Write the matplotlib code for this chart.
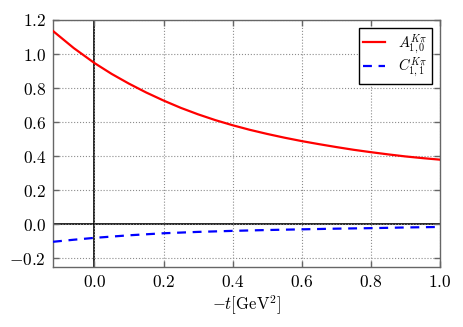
import matplotlib
matplotlib.use('Agg')
import matplotlib.pyplot as plt
from matplotlib.ticker import FuncFormatter

plt.rcParams['mathtext.fontset'] = 'cm'
plt.rcParams['font.family'] = 'serif'
plt.rcParams['font.serif'] = ['DejaVu Serif']

# values
t_red = [-0.12, -0.06, 0.0, 0.05, 0.1, 0.15, 0.2, 0.25, 0.3, 0.35, 0.4, 0.45,
         0.5, 0.55, 0.6, 0.65, 0.7, 0.75, 0.8, 0.85, 0.9, 0.95, 1.0]
A10 = [1.135, 1.035, 0.947, 0.883, 0.826, 0.774, 0.727, 0.684, 0.646, 0.612, 0.582, 0.555,
       0.531, 0.509, 0.489, 0.471, 0.454, 0.438, 0.424, 0.411, 0.399, 0.389, 0.38]
t_blue = [-0.12, -0.06, 0.0, 0.1, 0.2, 0.3, 0.4, 0.5, 0.6, 0.7, 0.8, 0.9, 1.0]
C11 = [-0.102, -0.09, -0.079, -0.064, -0.052, -0.044, -0.038, -0.033, -0.029,
       -0.025, -0.022, -0.018, -0.015]

fig = plt.figure(figsize=(4.63, 3.27), dpi=100)
ax = fig.add_axes([0.1145, 0.1835, 0.8355, 0.7555])

ax.axhline(0, color='black', lw=1.2, zorder=1)
ax.axvline(0, color='black', lw=1.2, zorder=1)
ax.plot(t_red, A10, color='red', lw=1.6, label=r'$A_{1,0}^{K\pi}$', zorder=3)
ax.plot(t_blue, C11, color='blue', lw=1.6, ls=(0, (4, 3)), label=r'$C_{1,1}^{K\pi}$', zorder=3)

ax.set_xlim(-0.12, 1.0)
ax.set_ylim(-0.25, 1.2)
ax.set_xticks([0.0, 0.2, 0.4, 0.6, 0.8, 1.0])
ax.set_yticks([-0.2, 0.0, 0.2, 0.4, 0.6, 0.8, 1.0, 1.2])
fmt = FuncFormatter(lambda v, p: r'$%.1f$' % v)
ax.xaxis.set_major_formatter(fmt)
ax.yaxis.set_major_formatter(fmt)
ax.tick_params(direction='in', top=True, right=True, length=4, width=1,
               color='0.4', labelsize=12.5, pad=5)
ax.grid(True, ls=':', color='0.55', lw=0.8)
for s in ax.spines.values():
    s.set_color('0.4')
    s.set_linewidth(1.0)

ax.set_xlabel(r'$-t[\mathrm{GeV}^2]$', fontsize=12, labelpad=2)

leg = ax.legend(loc='upper right', fontsize=10.5, fancybox=False, framealpha=1,
                edgecolor='black', handlelength=1.5, handletextpad=0.9,
                borderpad=0.3, labelspacing=0.0, borderaxespad=0.55)
leg.get_frame().set_linewidth(1.0)

fig.savefig('out.png', dpi=100)
